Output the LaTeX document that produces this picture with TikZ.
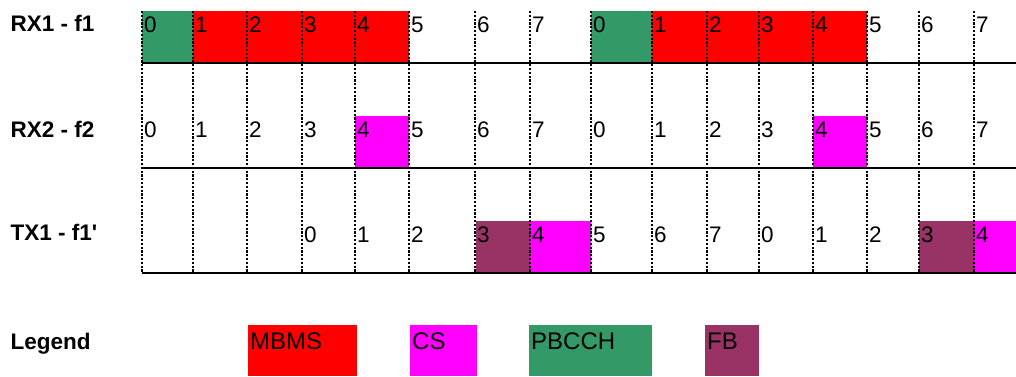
\documentclass[tikz,border=0pt]{standalone}
\usepackage{fontspec}
\setmainfont{Liberation Sans}[Ligatures=TeXOff]
\definecolor{mbms}{HTML}{FF0000}
\definecolor{csc}{HTML}{FF00FF}
\definecolor{pbcch}{HTML}{339966}
\definecolor{fbc}{HTML}{993366}
\begin{document}
\begin{tikzpicture}[x=1pt,y=-1pt,
  dotline/.style={line width=2.8pt,dash pattern=on 2.2pt off 1.6pt,black},
  rowline/.style={line width=2pt,black},
  num/.style={anchor=base west,inner sep=0pt,font=\fontsize{22.5}{26}\selectfont},
  rowlabel/.style={anchor=base west,inner sep=0pt,font=\fontsize{22.5}{26}\selectfont\bfseries},
  legtext/.style={anchor=base west,inner sep=0pt,font=\fontsize{24}{28}\selectfont}]
\useasboundingbox (0,0) rectangle (1016,376);
% fills
\foreach \a/\b/\t/\u/\c in {142/193/11/63/pbcch,193/409/11/63/mbms,591/652/11/63/pbcch,652/867/11/63/mbms,
  355/409/116/168/csc,813/867/116/168/csc,
  476/530/221/273/fbc,530/591/221/273/csc,919/974/221/273/fbc,974/1016/221/273/csc}
  {\fill[\c] (\a,\t) rectangle (\b,\u);}
% dotted lines
\foreach \x [count=\i] in {142,193,247,302,355,409,475,530,591,652,707,759,813,867,919,974}
  {\coordinate (dt\i) at (\x,11); \coordinate (db\i) at (\x,273); \draw[dotline] (dt\i) -- (db\i);}
% row lines
\foreach \y [count=\i] in {63,168,273}
  {\coordinate (hl\i) at (142,\y); \coordinate (hr\i) at (1016,\y); \draw[rowline] (hl\i) -- (hr\i);}
% row labels
\node[rowlabel] (lab1) at (10.5,31) {RX1 - f1};
\node[rowlabel] (lab2) at (10.5,137) {RX2 - f2};
\node[rowlabel] (lab3) at (10.5,240) {TX1 - f1'};
% numbers
\foreach \x/\l [count=\i] in {142/0,193/1,247/2,302/3,355/4,409/5,475/6,530/7,591/0,652/1,707/2,759/3,813/4,867/5,919/6,974/7}
  {\node[num] (ra\i) at (\x+2,32) {\l}; \node[num] (rb\i) at (\x+2,137) {\l};}
\foreach \x/\l [count=\i] in {302/0,355/1,409/2,475/3,530/4,591/5,652/6,707/7,759/0,813/1,867/2,919/3,974/4}
  {\node[num] (rc\i) at (\x+2,242) {\l};}
% legend
\node[rowlabel] (leg) at (10.5,349) {Legend};
\fill[mbms] (248,325) rectangle (357,376);
\fill[csc] (410,325) rectangle (477,376);
\fill[pbcch] (529,325) rectangle (652,376);
\fill[fbc] (705,325) rectangle (759,376);
\node[legtext] (lmbms) at (250,349) {MBMS};
\node[legtext] (lcs) at (412,349) {CS};
\node[legtext] (lpb) at (531,349) {PBCCH};
\node[legtext] (lfb) at (707,349) {FB};
\end{tikzpicture}
\end{document}
